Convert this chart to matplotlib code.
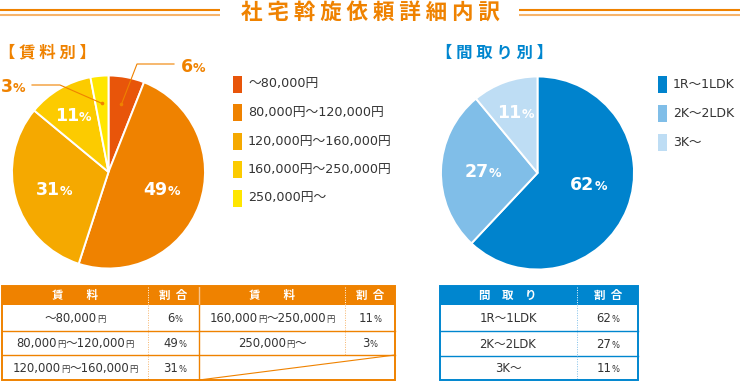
import matplotlib
matplotlib.use('Agg')
import matplotlib.pyplot as plt
from matplotlib import transforms
from matplotlib.patches import Rectangle
import numpy as np

FAM = ['DejaVu Sans', 'Noto Sans CJK JP']
CJK = ['Noto Sans CJK JP', 'DejaVu Sans']
plt.rcParams['font.family'] = FAM

# ---------------- data ----------------
title = '社 宅 斡 旋 依 頼 詳 細 内 訳'
rent_title = '【 賃 料 別 】'
layout_title = '【 間 取 り 別 】'
rent_labels = ['～80,000円', '80,000円～120,000円', '120,000円～160,000円',
               '160,000円～250,000円', '250,000円～']
rent_pct = [6, 49, 31, 11, 3]
layout_labels = ['1R～1LDK', '2K～2LDK', '3K～']
layout_pct = [62, 27, 11]
rent_header = ['賃　　料', '割  合']
layout_header = ['間　取　り', '割  合']

# ---------------- style ----------------
ORANGE = '#EF8200'
ORANGE_LIGHT = '#F7B46A'
BLUE = '#0086CF'
BLUE_LIGHT = '#7FC0EA'
TXT = '#333333'
rent_colors = ['#E8550A', '#EF8200', '#F5A900', '#FCCB00', '#FFE600']
layout_colors = ['#0083CD', '#80BEE8', '#BEDDF4']

W, H = 740, 381
fig = plt.figure(figsize=(7.4, 3.81), dpi=100)
fig.patch.set_facecolor('white')
R = fig.canvas.get_renderer()


def px_axes(x0, y0, w, h, z=1):
    return fig.add_axes([x0 / W, 1 - (y0 + h) / H, w / W, h / H], zorder=z)


ov = fig.add_axes([0, 0, 1, 1], zorder=10)
ov.set_xlim(0, W)
ov.set_ylim(H, 0)
ov.axis('off')
ov.patch.set_alpha(0)


def rich(ax, x, y, segs, color, ha='center', dy=0.0, zorder=12):
    items = []
    for s, size, weight in segs:
        t = ax.text(x, y, s, fontsize=size, fontweight=weight, color=color,
                    ha='left', va='baseline', zorder=zorder)
        items.append((t, t.get_window_extent(R).width))
    total = sum(w for _, w in items)
    off = {'center': -total / 2, 'left': 0, 'right': -total}[ha]
    for t, w in items:
        t.set_transform(transforms.offset_copy(ax.transData, fig=fig, x=off, y=dy, units='dots'))
        off += w


def segs_of(s, big, small, weight='normal'):
    out = []
    for ch in s:
        sz = small if ch in '円%' else big
        if out and out[-1][1] == sz:
            out[-1] = (out[-1][0] + ch, sz, weight)
        else:
            out.append((ch, sz, weight))
    return out


# ---------------- title ----------------
ov.text(370, 12, title, ha='center', va='center', fontsize=15.5, fontweight='bold',
        color=ORANGE, family=CJK)
for x0, x1 in [(0, 220), (519, 740)]:
    ov.plot([x0, x1], [10, 10], color=ORANGE, lw=1.5, solid_capstyle='butt')
    ov.plot([x0, x1], [14.6, 14.6], color=ORANGE_LIGHT, lw=1.5, solid_capstyle='butt')

ov.text(-1, 52, rent_title, ha='left', va='center', fontsize=11.8, fontweight='bold',
        color=ORANGE, family=CJK)
ov.text(436, 53, layout_title, ha='left', va='center', fontsize=11.8, fontweight='bold',
        color=BLUE, family=CJK)


# ---------------- pies ----------------
def make_pie(cx, cy, r, vals, colors):
    ax = px_axes(cx - r, cy - r, 2 * r, 2 * r)
    wedges, _ = ax.pie(vals, colors=colors, startangle=90, counterclock=False, radius=1,
                       wedgeprops=dict(edgecolor='white', linewidth=1.4))
    ax.set_xlim(-1.005, 1.005)
    ax.set_ylim(-1.005, 1.005)
    ax.set_aspect('equal')
    ax.axis('off')
    return ax, wedges


RCX, RCY, RR = 108.5, 172, 97
LCX, LCY, LR = 537.5, 173, 97
rax, rw = make_pie(RCX, RCY, RR, rent_pct, rent_colors)
lax, lw_ = make_pie(LCX, LCY, LR, layout_pct, layout_colors)

rent_lbl = [None, (0.58, 2.5), (0.59, 1.0), (0.70, 1.0), None]
layout_lbl = [(0.54, 10.0), (0.57, -1.0), (0.68, 0.0)]


def pie_labels(ax, wedges, vals, spec):
    for w, v, sp in zip(wedges, vals, spec):
        if sp is None:
            continue
        d, tw = sp
        a = np.deg2rad((w.theta1 + w.theta2) / 2 + tw)
        rich(ax, d * np.cos(a), d * np.sin(a),
             [(str(v), 12.5, 'bold'), ('%', 9, 'bold')], 'white', dy=-6.3)


pie_labels(rax, rw, rent_pct, rent_lbl)
pie_labels(lax, lw_, layout_pct, layout_lbl)


# outside labels with leader lines (6% and 3%)
def wedge_point(w, cx, cy, r, d=0.71):
    a = np.deg2rad((w.theta1 + w.theta2) / 2)
    return cx + d * r * np.cos(a), cy - d * r * np.sin(a)


for idx, elbow, end, tpos in [(0, (137, 64), (174, 64), (193, 72.5)),
                              (4, (60, 85), (32, 85), (13, 92.5))]:
    px, py = wedge_point(rw[idx], RCX, RCY, RR)
    ov.plot([px, elbow[0], end[0]], [py, elbow[1], end[1]], color=ORANGE, lw=0.8)
    ov.plot([px], [py], 'o', color=ORANGE, ms=2.6, mec='none')
    rich(ov, tpos[0], tpos[1], [(str(rent_pct[idx]), 12.5, 'bold'), ('%', 9, 'bold')], ORANGE)

# ---------------- legends ----------------
for i, (lab, c) in enumerate(zip(rent_labels, rent_colors)):
    yc = 84 + i * 28.5
    ov.add_patch(Rectangle((233, yc - 8.5), 9, 17, color=c, lw=0))
    ov.text(248, yc, lab, ha='left', va='center', fontsize=9.2, color=TXT)

for i, (lab, c) in enumerate(zip(layout_labels, layout_colors)):
    yc = 84.5 + i * 29
    ov.add_patch(Rectangle((658, yc - 8.5), 9, 17, color=c, lw=0))
    ov.text(673, yc, lab, ha='left', va='center', fontsize=9, color=TXT)


# ---------------- tables ----------------
def table_frame(x0, x1, y0, yh, y1, rows_y, color, light, dotted, solid_x=()):
    ov.add_patch(Rectangle((x0, y0), x1 - x0, yh - y0, color=color, lw=0, zorder=3))
    for yy in rows_y:
        ov.plot([x0, x1], [yy, yy], color=color, lw=1.0, zorder=4)
    for xx, yend in dotted:
        ov.plot([xx, xx], [y0 + 1, yh], color='white', lw=0.7, ls=(0, (1, 1.5)), zorder=4)
        ov.plot([xx, xx], [yh, yend], color=light, lw=0.7, ls=(0, (1, 1.5)), zorder=4)
    for xx in solid_x:
        ov.plot([xx, xx], [y0, yh], color='#F8C48C', lw=1.0, zorder=4)
        ov.plot([xx, xx], [yh, y1], color=color, lw=1.0, zorder=4)
    ov.add_patch(Rectangle((x0, y0), x1 - x0, y1 - y0, fill=False, ec=color, lw=1.4, zorder=5))


# rent table
table_frame(2, 395, 286, 305, 380, [331, 355], ORANGE, ORANGE_LIGHT,
            [(148, 380), (345, 355)], [199])
ov.plot([199, 395], [380, 355], color=ORANGE, lw=0.8, zorder=4)
row_c = [318, 343, 367.5]
for cx_lab, cx_pct in [(75, 173), (272, 370)]:
    ov.text(cx_lab, 295.5, rent_header[0], ha='center', va='center', fontsize=8.3,
            fontweight='bold', color='white', zorder=6, family=CJK)
    ov.text(cx_pct, 295.5, rent_header[1], ha='center', va='center', fontsize=8.3,
            fontweight='bold', color='white', zorder=6, family=CJK)
for i, (lab, p) in enumerate(zip(rent_labels, rent_pct)):
    col = i // 3
    row = i % 3
    cx_lab, cx_pct = [(75, 175), (272, 370)][col]
    rich(ov, cx_lab, row_c[row] + 4.2, segs_of(lab, 8.4, 6), TXT)
    rich(ov, cx_pct, row_c[row] + 4.2, segs_of(f'{p}%', 8.4, 6), TXT)

# layout table
table_frame(440, 638, 286, 305, 380, [331, 356], BLUE, BLUE_LIGHT, [(577, 380)])
ov.text(508, 295.5, layout_header[0], ha='center', va='center', fontsize=8.3,
        fontweight='bold', color='white', zorder=6, family=CJK)
ov.text(608, 295.5, layout_header[1], ha='center', va='center', fontsize=8.3,
        fontweight='bold', color='white', zorder=6, family=CJK)
for i, (lab, p) in enumerate(zip(layout_labels, layout_pct)):
    yc = [318, 343.5, 368][i]
    rich(ov, 508, yc + 4.2, segs_of(lab, 8.4, 6), TXT)
    rich(ov, 608, yc + 4.2, segs_of(f'{p}%', 8.4, 6), TXT)

fig.savefig('out.png', dpi=100, facecolor='white')
